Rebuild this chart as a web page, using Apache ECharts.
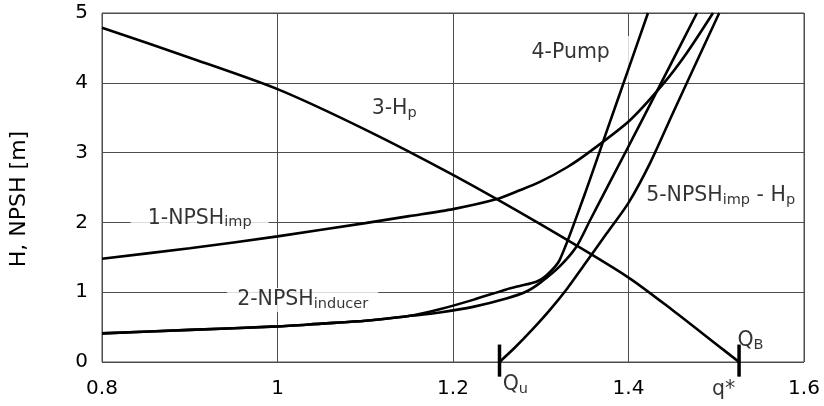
<!DOCTYPE html>
<html><head><meta charset="utf-8">
<script src="https://cdn.jsdelivr.net/npm/echarts@6/dist/echarts.min.js"></script>
<style>html,body{margin:0;padding:0;background:#fff}#c{width:824px;height:406px}</style>
</head><body><div id="c"></div>
<script>
// ---- data ----
const xRange = [0.8, 1.6];
const yRange = [0, 5];
// 1 - NPSH of impeller
const npshImp = [[0.8,1.48],[0.9,1.63],[1.0,1.80],[1.1,1.99],[1.15,2.09],[1.2,2.19],[1.249,2.33],[1.276,2.46],[1.299,2.58],[1.33,2.79],[1.3556,3.01],[1.4014,3.46],[1.4393,3.98],[1.466,4.42],[1.4963,5.0]];
// 2 - NPSH of inducer
const npshInducer = [[0.8,0.41],[0.9,0.46],[1.0,0.51],[1.05,0.55],[1.1,0.59],[1.155,0.665],[1.1848,0.71],[1.2228,0.79],[1.2608,0.91],[1.2836,1.01],[1.2988,1.13],[1.3216,1.37],[1.3406,1.65],[1.3558,2.02],[1.3748,2.48],[1.3976,3.03],[1.4165,3.49],[1.4393,4.05],[1.478,5.0]];
// 3 - H_p
const headP = [[0.8,4.79],[0.9,4.36],[1.0,3.91],[1.1,3.33],[1.2,2.68],[1.3,1.97],[1.4,1.21],[1.45,0.745],[1.5,0.255],[1.526,0.0]];
// 4 - Pump
const pump = [[0.8,0.41],[0.9,0.46],[1.0,0.51],[1.05,0.55],[1.1,0.59],[1.155,0.67],[1.1848,0.755],[1.2228,0.89],[1.2608,1.04],[1.276,1.09],[1.295,1.15],[1.3064,1.24],[1.3215,1.46],[1.35,2.40],[1.375,3.30],[1.40,4.20],[1.4222,5.0]];
// 5 - NPSH_imp - H_p
const npshImpMinusHp = [[1.253,0.0],[1.27,0.2],[1.29,0.46],[1.31,0.74],[1.33,1.05],[1.35,1.40],[1.375,1.84],[1.40,2.28],[1.425,2.86],[1.45,3.55],[1.475,4.23],[1.5034,5.0]];
// special flow rates
const flowMarks = { Qu: 1.253, qStar: 1.526 };

// ---- chart ----
const FONT = 'DejaVu Sans, Liberation Sans, Arial, sans-serif';
const rich = {
  m: { fontSize: 20.5, fontFamily: FONT, color: '#000', lineHeight: 24 },
  s: { fontSize: 14.5, fontFamily: FONT, color: '#000', lineHeight: 15, verticalAlign: 'bottom' },
  g: { width: 5, height: 46, backgroundColor: '#fff' }
};
function ann(x, y, fmt, extra) {
  return { value: [x, y], label: Object.assign({ formatter: fmt }, extra || {}) };
}
const annotations = [
  ann(0.9113, 2.06, '{m|1-NPSH}{s|imp}', { backgroundColor: '#fff', padding: [0, 17, 0, 17] }),
  ann(1.0287, 0.89, '{m|2-NPSH}{s|inducer}', { backgroundColor: '#fff', padding: [0, 10, 0, 10] }),
  ann(1.133, 3.63, '{m|3-H}{s|p}'),
  ann(1.3341, 4.43, '{m|4-Pump}'),
  ann(1.4, 4.34, '{g|}'),
  ann(1.505, 2.38, '{m|5-NPSH}{s|imp}{m| - H}{s|p}'),
  ann(flowMarks.Qu + 0.018, -0.33, '{m|Q}{s|u}'),
  ann(flowMarks.qStar + 0.013, 0.30, '{m|Q}{s|B}'),
  ann(flowMarks.qStar - 0.0175, -0.40, '{m|q*}')
];
function curve(data) {
  return { type: 'line', data: data, smooth: 0.25, symbol: 'none', z: 3, silent: true,
    lineStyle: { color: '#000', width: 2.6 } };
}
function tick(x) {
  return { type: 'line', data: [[x, 0.25], [x, -0.21]], symbol: 'none', clip: false, z: 3, silent: true,
    lineStyle: { color: '#000', width: 3.5 } };
}
const chart = echarts.init(document.getElementById('c'), null, { renderer: 'canvas' });
chart.setOption({
  animation: false,
  backgroundColor: '#fff',
  grid: { left: 102, right: 20, top: 13, bottom: 44, show: true, borderColor: '#4d4d4d', borderWidth: 1 },
  xAxis: {
    type: 'value', min: xRange[0], max: xRange[1], interval: 0.2,
    axisLine: { show: false }, axisTick: { show: false },
    splitLine: { show: true, lineStyle: { color: '#4d4d4d', width: 1 } },
    axisLabel: { fontSize: 20, fontFamily: FONT, color: '#000', margin: 17,
      formatter: v => String(+v.toFixed(1)) }
  },
  yAxis: {
    type: 'value', min: yRange[0], max: yRange[1], interval: 1,
    axisLine: { show: false }, axisTick: { show: false },
    splitLine: { show: true, lineStyle: { color: '#4d4d4d', width: 1 } },
    axisLabel: { fontSize: 20, fontFamily: FONT, color: '#000', margin: 14 }
  },
  graphic: [{
    type: 'text', x: 19, y: 199, rotation: Math.PI / 2,
    style: { text: 'H, NPSH [m]', fontSize: 22, fontFamily: FONT, fill: '#000', align: 'center', verticalAlign: 'middle' }
  }],
  series: [
    curve(npshImp), curve(npshInducer), curve(headP), curve(pump), curve(npshImpMinusHp),
    tick(flowMarks.Qu), tick(flowMarks.qStar),
    { type: 'scatter', data: annotations, symbolSize: 1, clip: false, z: 1, silent: true,
      itemStyle: { color: 'rgba(0,0,0,0)' },
      label: { show: true, position: 'inside', align: 'center', verticalAlign: 'middle', rich: rich } }
  ]
});
</script></body></html>
